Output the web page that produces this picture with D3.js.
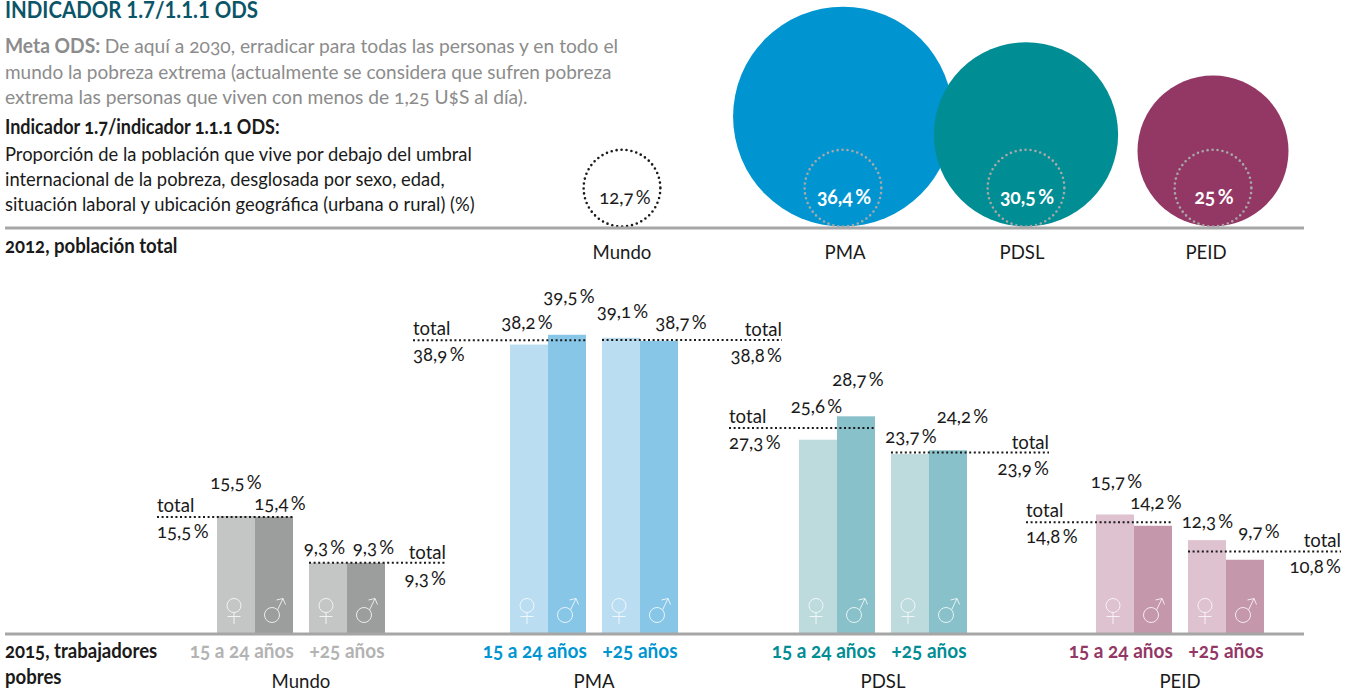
<!DOCTYPE html>
<html>
<head>
    <meta charset="utf-8">
    <title>Indicador 1.7/1.1.1 ODS</title>
    <style>
        body { margin: 0; background: #ffffff; }
        svg { display: block; }
        text { font-family: Lato, "Noto Sans", sans-serif; font-size: 20px; fill: #1a1a1a; font-variant-numeric: oldstyle-nums; }
        .bold { font-weight: bold; }
        .total { stroke: #1a1a1a; stroke-width: 2; stroke-dasharray: 2 2.6; fill: none; }
        .rule { stroke: #a6a6a6; stroke-width: 3; }
        .sex { stroke: #ffffff; stroke-width: 1; fill: none; opacity: 0.8; }
    </style>
    <script src="https://d3js.org/d3.v7.min.js"></script>
</head>
<body>
    <div id="chart"></div>
    <script>
        var categories = ["Mundo", "PMA", "PDSL", "PEID"];
        var population2012 = [12.7, 36.4, 30.5, 25];
        var ageGroups = ["15 a 24 años", "+25 años"];
        var sexes = ["f", "m"];

        var youngFemale = [15.5, 38.2, 25.6, 15.7];
        var youngMale = [15.4, 39.5, 28.7, 14.2];
        var olderFemale = [9.3, 39.1, 23.7, 12.3];
        var olderMale = [9.3, 38.7, 24.2, 9.7];
        var youngTotal = [15.5, 38.9, 27.3, 14.8];
        var olderTotal = [9.3, 38.8, 23.9, 10.8];

        var metaLines = [
            "De aquí a 2030, erradicar para todas las personas y en todo el",
            "mundo la pobreza extrema (actualmente se considera que sufren pobreza",
            "extrema las personas que viven con menos de 1,25 U$S al día)."
        ];
        var indicatorLines = [
            "Proporción de la población que vive por debajo del umbral",
            "internacional de la pobreza, desglosada por sexo, edad,",
            "situación laboral y ubicación geográfica (urbana o rural) (%)"
        ];

        // colours per category
        var mainColor = ["#b3b3b3", "#0095d1", "#008d94", "#933765"];
        var lightBar = ["#c4c6c5", "#bbddf2", "#bddadd", "#dfc2cf"];
        var darkBar = ["#9c9d9d", "#88c6e7", "#88c1ca", "#c597ab"];
        var bubbleFill = [null, "#0095d1", "#008d94", "#933765"];

        var width = 1357, height = 695;
        var squeeze = 0.93; // the source face is condensed, none is installed
        var svg = d3.select("#chart").append("svg")
            .attr("width", width)
            .attr("height", height);

        function pct(v) {
            return String(v).replace(".", ",") + "\u2009%";
        }

        function label(x, y, str, anchor, cls, color, sx) {
            return svg.append("text")
                .attr("transform", "translate(" + x + "," + y + ") scale(" + (sx || squeeze) + ",1)")
                .attr("text-anchor", anchor || "start")
                .attr("class", cls || null)
                .style("fill", color || null)
                .text(str);
        }

        // header text
        label(5, 18, "INDICADOR 1.7/1.1.1 ODS", "start", "bold", "#0b5568")
            .style("font-size", "22px")
            .style("font-variant-numeric", "lining-nums");

        var meta = label(5, 53, "Meta ODS: ", "start", "bold", "#8c8c8c", 0.96);
        meta.append("tspan").style("font-weight", "normal").text(metaLines[0]);
        label(5, 79, metaLines[1], "start", null, "#8c8c8c", 0.95);
        label(5, 104, metaLines[2], "start", null, "#8c8c8c", 0.96);

        label(5, 134, "Indicador 1.7/indicador 1.1.1 ODS:", "start", "bold", null, 0.9);
        indicatorLines.forEach(function(line, i) {
            label(5, [161, 186, 211][i], line, "start", null, null, 0.92);
        });
        label(5, 253, "2012, población total", "start", "bold");
        label(5, 658, "2015, trabajadores", "start", "bold");
        label(5, 684, "pobres", "start", "bold");

        // top part: bubbles sitting on the rule
        var bubbleX = d3.scaleOrdinal().domain(categories).range([622, 843, 1026, 1213]);
        var nameX = d3.scaleOrdinal().domain(categories).range([622, 845, 1022, 1206]);
        var radius = d3.scaleLinear().domain([0, 40]).range([0, 120.8]);
        var bubbleBase = 226.5;

        var bubbles = categories.map(function(c, i) {
            return { name: c, value: population2012[i], fill: bubbleFill[i] };
        });

        svg.selectAll(".bubble")
            .data(bubbles.filter(function(d) { return d.fill; }))
            .enter().append("circle")
            .attr("class", "bubble")
            .attr("cx", function(d) { return bubbleX(d.name); })
            .attr("cy", function(d) { return bubbleBase - radius(d.value); })
            .attr("r", function(d) { return radius(d.value); })
            .attr("fill", function(d) { return d.fill; });

        // world reference circle repeated inside each bubble
        svg.selectAll(".ref")
            .data(bubbles)
            .enter().append("circle")
            .attr("class", "ref")
            .attr("cx", function(d) { return bubbleX(d.name); })
            .attr("cy", bubbleBase - radius(population2012[0]))
            .attr("r", radius(population2012[0]))
            .attr("fill", "none")
            .attr("stroke", function(d) { return d.fill ? "#a8a8a8" : "#1a1a1a"; })
            .attr("stroke-width", 2.6)
            .attr("stroke-linecap", "round")
            .attr("stroke-dasharray", "0 5");

        bubbles.forEach(function(d, i) {
            label(bubbleX(d.name) + (i ? 1 : 3), 204, pct(d.value), "middle", i ? "bold" : null, i ? "#ffffff" : "#1a1a1a", i ? 0.97 : squeeze);
            label(nameX(d.name), 259, d.name, "middle");
        });

        svg.append("line").attr("class", "rule").attr("x1", 5).attr("x2", 1304).attr("y1", 228).attr("y2", 228);

        // bottom part: bars
        var y = d3.scaleLinear().domain([0, 40]).range([633, 331]);
        var groupX = d3.scaleOrdinal().domain(categories).range([217, 510, 799, 1096]);
        var ageX = d3.scaleBand().domain(ageGroups).range([0, 168]).paddingInner(16 / 92);
        var sexX = d3.scaleBand().domain(sexes).range([0, ageX.bandwidth()]);

        // label offset from bar centre and bar top, same order as the bars
        var barLabelDx = [0, 6, -3.5, 7.5, -2, 2, 1.5, 22, -1.5, 2, 1, 14.5, 1.5, 3, 0.5, 14];
        var barLabelDy = [-27, -7, -9, -9, -15.6, -32, -20, -12, -27, -30, -11, -27, -26.5, -17, -12, -22];

        var bars = [];
        categories.forEach(function(c, i) {
            [[youngFemale, youngMale], [olderFemale, olderMale]].forEach(function(pair, a) {
                pair.forEach(function(series, s) {
                    bars.push({
                        cat: c, catIndex: i, age: ageGroups[a], sex: sexes[s], value: series[i],
                        dx: barLabelDx[bars.length], dy: barLabelDy[bars.length]
                    });
                });
            });
        });

        function barLeft(d) {
            return groupX(d.cat) + ageX(d.age) + sexX(d.sex);
        }

        svg.selectAll(".bar")
            .data(bars)
            .enter().append("rect")
            .attr("class", "bar")
            .attr("x", barLeft)
            .attr("y", function(d) { return y(d.value); })
            .attr("width", sexX.bandwidth())
            .attr("height", function(d) { return y(0) - y(d.value); })
            .attr("fill", function(d) { return d.sex === "f" ? lightBar[d.catIndex] : darkBar[d.catIndex]; });

        bars.forEach(function(d) {
            var cx = barLeft(d) + sexX.bandwidth() / 2;
            label(cx + d.dx, y(d.value) + d.dy, pct(d.value), "middle");

            // sex symbols at the foot of each bar
            var g = svg.append("g").attr("class", "sex").attr("transform", "translate(" + cx + ",0)");
            if (d.sex === "f") {
                g.append("circle").attr("cx", -2).attr("cy", 605.5).attr("r", 7);
                g.append("path").attr("d", "M-2,612.5V624M-8.5,616.5H4.5");
            } else {
                g.append("circle").attr("cx", -2).attr("cy", 615).attr("r", 7.5);
                g.append("path").attr("d", "M3.5,610L9,598.5M2.5,600L9,598.5L11.5,604.5");
            }
        });

        // dotted total lines with their labels
        var totalLeftExtent = [157, 413, 729, 1026];
        var totalRightExtent = [446, 782, 1049, 1341];

        categories.forEach(function(c, i) {
            var yy = y(youngTotal[i]);
            var yo = y(olderTotal[i]);
            var x0 = groupX(c) + ageX(ageGroups[0]);
            var x1 = groupX(c) + ageX(ageGroups[1]);

            svg.append("line").attr("class", "total")
                .attr("x1", totalLeftExtent[i]).attr("x2", x0 + ageX.bandwidth())
                .attr("y1", yy + 1).attr("y2", yy + 1);
            label(totalLeftExtent[i], yy - 4, "total");
            label(totalLeftExtent[i], yy + 22, pct(youngTotal[i]));

            svg.append("line").attr("class", "total")
                .attr("x1", x1).attr("x2", totalRightExtent[i])
                .attr("y1", yo).attr("y2", yo);
            label(totalRightExtent[i], yo - 4, "total", "end");
            label(totalRightExtent[i], yo + 22, pct(olderTotal[i]), "end");
        });

        svg.append("line").attr("class", "rule").attr("x1", 5).attr("x2", 1304).attr("y1", 634).attr("y2", 634);

        // age labels through one bottom axis per category
        categories.forEach(function(c, i) {
            var axis = d3.axisBottom(ageX).tickSize(0).tickPadding(0);
            var g = svg.append("g")
                .attr("transform", "translate(" + groupX(c) + ",644)")
                .call(axis);
            g.attr("font-family", null).attr("font-size", null);
            g.select(".domain").remove();
            g.selectAll("text")
                .attr("class", "bold")
                .attr("transform", "scale(0.95,1)")
                .attr("dx", function(d) { return d === ageGroups[0] ? -14 : 0; })
                .style("fill", mainColor[i]);
            label(groupX(c) + 84, 688, c, "middle");
        });
    </script>
</body>
</html>
